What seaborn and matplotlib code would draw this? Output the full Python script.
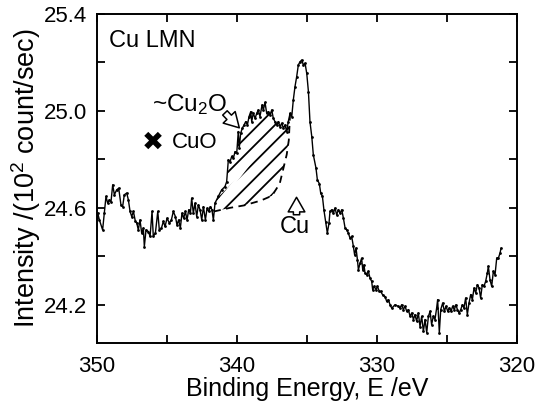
import numpy as np
import pandas as pd
import matplotlib
matplotlib.use("Agg")
import matplotlib.pyplot as plt
from matplotlib.ticker import MultipleLocator, FuncFormatter
import seaborn as sns

# Cu LMN spectrum (binding energy eV, intensity 10^2 count/sec)
energy = [
    350.00, 349.95, 349.83, 349.60, 349.48, 349.36, 349.24, 349.12, 349.00, 348.88,
    348.76, 348.60, 348.45, 348.29, 348.17, 348.05, 347.88, 347.76, 347.64, 347.52,
    347.40, 347.26, 347.16, 347.05, 346.93, 346.81, 346.69, 346.62, 346.50, 346.33,
    346.21, 346.07, 345.98, 345.83, 345.66, 345.55, 345.40, 345.26, 345.14, 345.00,
    344.83, 344.69, 344.55, 344.40, 344.29, 344.17, 344.05, 343.93, 343.81, 343.69,
    343.57, 343.45, 343.33, 343.24, 343.12, 343.00, 342.88, 342.76, 342.64, 342.52,
    342.40, 342.26, 342.14, 342.02, 341.90, 341.79, 341.69,
    341.57, 341.34, 341.10, 340.86, 340.74, 340.62, 340.50, 340.38, 340.26, 340.14,
    340.02, 339.91, 339.84, 339.74, 339.62, 339.50, 339.38, 339.26, 339.14, 339.02,
    338.95, 338.84, 338.71, 338.59, 338.48, 338.36, 338.21, 338.12, 338.00, 337.88,
    337.76, 337.64, 337.52, 337.41, 337.29, 337.16, 337.05, 336.93, 336.81, 336.69,
    336.57, 336.45, 336.34,
    336.21, 336.09, 335.98, 335.86, 335.74, 335.62, 335.50, 335.38, 335.26, 335.14,
    335.02, 334.90, 334.79, 334.66, 334.55, 334.36, 334.26, 334.12, 334.02, 333.90,
    333.79, 333.67, 333.55, 333.43,
    333.36, 333.24, 333.12, 333.00, 332.88, 332.76, 332.64, 332.52, 332.40, 332.28,
    332.16, 332.05, 331.93, 331.81, 331.69, 331.60, 331.50, 331.40, 331.33, 331.21,
    331.10, 331.02, 330.93, 330.86, 330.74, 330.62, 330.50, 330.38, 330.31, 330.21,
    330.07, 329.98, 329.83, 329.74, 329.60, 329.43, 329.31, 329.19, 329.07, 328.95,
    328.71, 328.48,
    328.36, 328.24, 328.12, 328.00, 327.88, 327.76, 327.64, 327.52, 327.40, 327.29,
    327.17, 327.05, 326.93, 326.81, 326.69, 326.57, 326.45, 326.33, 326.21, 326.10,
    325.98, 325.86, 325.74, 325.67, 325.55, 325.45, 325.31, 325.19, 325.07, 324.95,
    324.83, 324.71, 324.60, 324.48, 324.36, 324.26, 324.14, 324.02, 323.90, 323.79,
    323.67, 323.55, 323.43, 323.31, 323.19, 323.07, 322.95, 322.83, 322.71, 322.60,
    322.48, 322.36, 322.24, 322.12, 322.05, 321.93, 321.81, 321.69, 321.57, 321.45,
    321.33, 321.21, 321.14,
]
intensity = [
    24.560, 24.578, 24.550, 24.509, 24.578, 24.647, 24.620, 24.633, 24.626, 24.695,
    24.654, 24.674, 24.681, 24.612, 24.605, 24.654, 24.661, 24.633, 24.585, 24.564,
    24.585, 24.544, 24.537, 24.509, 24.550, 24.496, 24.516, 24.440, 24.509, 24.502,
    24.482, 24.585, 24.482, 24.496, 24.585, 24.509, 24.516, 24.544, 24.523, 24.557,
    24.537, 24.550, 24.585, 24.564, 24.530, 24.550, 24.516, 24.578, 24.557, 24.585,
    24.550, 24.592, 24.578, 24.640, 24.578, 24.619, 24.564, 24.612, 24.592, 24.550,
    24.605, 24.550, 24.598, 24.585, 24.605, 24.592, 24.550,
    24.620, 24.647, 24.674, 24.688, 24.708, 24.798, 24.790, 24.812, 24.805, 24.832,
    24.826, 24.915, 24.846, 24.908, 24.929, 24.942, 24.956, 24.942, 24.977, 24.997,
    24.956, 24.990, 24.970, 24.990, 25.004, 24.977, 25.025, 25.004, 25.035, 24.990,
    24.997, 24.984, 25.004, 24.970, 24.956, 24.942, 24.956, 24.935, 24.949, 24.929,
    24.942, 24.915, 24.956,
    24.990, 24.977, 25.045, 25.100, 25.141, 25.190, 25.203, 25.210, 25.190, 25.197,
    25.155, 25.080, 24.956, 24.894, 24.819, 24.764, 24.715, 24.700, 24.660, 24.647,
    24.590, 24.543, 24.496, 24.537,
    24.585, 24.592, 24.578, 24.599, 24.571, 24.592, 24.578, 24.592, 24.557, 24.516,
    24.509, 24.496, 24.475, 24.482, 24.441, 24.406, 24.434, 24.386, 24.344, 24.372,
    24.392, 24.344, 24.365, 24.331, 24.324, 24.338, 24.310, 24.296, 24.262, 24.276,
    24.262, 24.276, 24.255, 24.255, 24.241, 24.234, 24.214, 24.221, 24.200, 24.186,
    24.200, 24.193,
    24.187, 24.200, 24.180, 24.194, 24.173, 24.180, 24.152, 24.166, 24.139, 24.159,
    24.132, 24.166, 24.110, 24.152, 24.090, 24.139, 24.085, 24.152, 24.173, 24.118,
    24.152, 24.139, 24.187, 24.221, 24.085, 24.180, 24.207, 24.173, 24.194, 24.173,
    24.187, 24.173, 24.194, 24.180, 24.200, 24.180, 24.166, 24.180, 24.200, 24.187,
    24.228, 24.159, 24.207, 24.242, 24.221, 24.269, 24.249, 24.283, 24.269, 24.228,
    24.283, 24.276, 24.297, 24.331, 24.359, 24.303, 24.276, 24.338, 24.324, 24.393,
    24.393, 24.414, 24.434,
]

# dashed lower edge of the hatched ~Cu2O area
cu2o_lo_e = [336.21, 336.30, 336.45, 336.70, 336.95, 337.50, 338.30, 339.50, 340.50, 341.65]
cu2o_lo_i = [24.990, 24.880, 24.820, 24.760, 24.700, 24.650, 24.630, 24.610, 24.600, 24.585]

df = pd.DataFrame({"E": energy, "I": intensity})

sns.set_style("ticks")
plt.rcParams["font.family"] = ["Liberation Sans", "DejaVu Sans"]
plt.rcParams["mathtext.fontset"] = "custom"
plt.rcParams["mathtext.rm"] = "Liberation Sans"
plt.rcParams["mathtext.it"] = "Liberation Sans"
plt.rcParams["hatch.linewidth"] = 1.3
plt.rcParams["text.color"] = "k"
plt.rcParams["axes.labelcolor"] = "k"

fig = plt.figure(figsize=(5.36, 4.01), dpi=100)
ax = fig.add_axes([0.181, 0.1446, 0.7836, 0.8204])

sns.lineplot(data=df, x="E", y="I", sort=False, estimator=None, color="k",
             lw=1.0, marker="o", markersize=2, markeredgewidth=0, ax=ax)

# hatched region between spectrum and dashed edge
seg = df[(df["E"] <= 341.6) & (df["E"] >= 336.2)]
poly_e = list(seg["E"]) + cu2o_lo_e[::-1]
poly_i = list(seg["I"]) + cu2o_lo_i[::-1]
ax.fill(poly_e, poly_i, facecolor="none", edgecolor="k", hatch="//", lw=0)
ax.plot(cu2o_lo_e, cu2o_lo_i, color="k", lw=1.3, ls=(0, (4, 3)))

ax.set_xlim(350, 320)
ax.set_ylim(24.042, 25.4)

ax.xaxis.set_major_locator(MultipleLocator(5))
ax.yaxis.set_major_locator(MultipleLocator(0.2))
ax.xaxis.set_major_formatter(FuncFormatter(
    lambda v, p: f"{v:.0f}" if abs(v / 10 - round(v / 10)) < 1e-6 else ""))
ax.yaxis.set_major_formatter(FuncFormatter(
    lambda v, p: f"{v:.1f}" if abs((v - 24.2) / 0.4 - round((v - 24.2) / 0.4)) < 1e-3 else ""))
ax.tick_params(direction="in", length=6, width=1.3, top=True, right=True,
               labelsize=16, colors="k")
ax.tick_params(axis="x", pad=9)
ax.tick_params(axis="y", pad=7)
for s in ax.spines.values():
    s.set_linewidth(1.4)
    s.set_color("k")

ax.set_xlabel("Binding Energy, E /eV", fontsize=18, labelpad=0)
ax.set_ylabel("Intensity /(10$^2$ count/sec)", fontsize=19.5, labelpad=1)

ax.text(349.15, 25.287, "Cu LMN", fontsize=17, va="center", ha="left")
ax.text(346.1, 25.025, "~Cu$_2$O", fontsize=17.5, va="center", ha="left")
ax.text(346.0, 24.868, "\u2716", fontsize=19, va="center", ha="center",
        family="DejaVu Sans")
ax.text(344.65, 24.868, "CuO", fontsize=16, va="center", ha="left")
ax.text(335.9, 24.52, "Cu", fontsize=17, va="center", ha="center")

hollow = dict(arrowstyle="simple,head_width=0.8,head_length=0.7,tail_width=0.3",
              fc="white", ec="k", lw=1.1)
ax.annotate("", xy=(339.7, 24.922), xytext=(341.0, 25.0),
            arrowprops=dict(hollow, mutation_scale=15))
ax.annotate("", xy=(335.75, 24.655), xytext=(335.75, 24.56),
            arrowprops=dict(hollow, mutation_scale=15))

fig.savefig("out.png", dpi=100)
